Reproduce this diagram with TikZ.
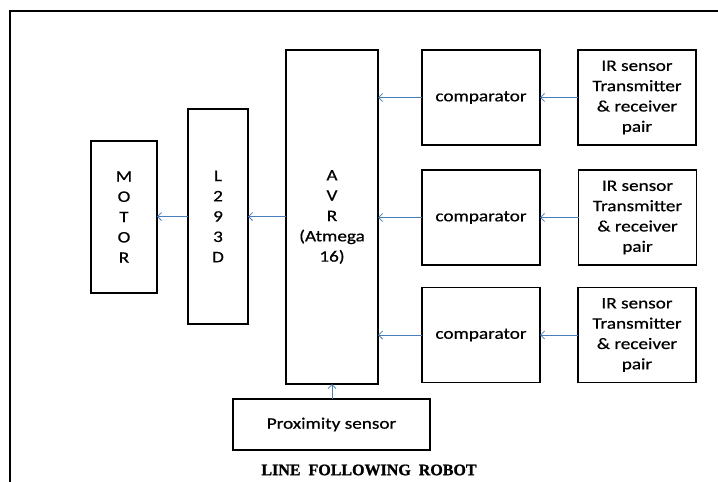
\documentclass[tikz,border=0pt]{standalone}
\usepackage{fontspec}
\setmainfont{Carlito}[FakeStretch=1.2,FakeBold=0.6]
\newfontfamily\titlefont{Liberation Serif}[FakeBold=1.2]
\usetikzlibrary{arrows.meta}
\definecolor{arrowblue}{RGB}{74,126,187}
\begin{document}
\begin{tikzpicture}[x=1pt,y=-1pt,
  box/.style={draw=black,line width=1.6pt,inner sep=0pt,outer sep=0pt,align=center,
    font=\fontsize{16}{20.3}\selectfont},
  conn/.style={draw=arrowblue,line width=0.8pt,-{Straight Barb[length=4pt,width=8pt]}},
  frameline/.style={draw=black,line width=1.8pt}]
\useasboundingbox (0,0) rectangle (718,482);
% frame
\coordinate (f1) at (10,482);
\coordinate (f2) at (10,11);
\coordinate (f3) at (718,11);
\draw[frameline] (f1) -- (f2) -- (f3);
% blocks
\node[box,minimum width=66pt,minimum height=152pt] (motor) at (124,217) {M\\O\\T\\O\\R};
\node[box,minimum width=60pt,minimum height=215pt] (l293) at (218,216.5) {L\\2\\9\\3\\D};
\node[box,minimum width=92pt,minimum height=334pt] (avr) at (332,217) {A\\V\\R\\(Atmega\\16)};
\node[box,minimum width=118pt,minimum height=95pt] (cmp1) at (481,97.5) {comparator};
\node[box,minimum width=118pt,minimum height=95pt] (cmp2) at (481,217.5) {comparator};
\node[box,minimum width=118pt,minimum height=95pt] (cmp3) at (481,335) {comparator};
\node[box,minimum width=118pt,minimum height=95pt] (ir1) at (637,97.5) {IR sensor\\Transmitter\\\& receiver\\pair};
\node[box,minimum width=118pt,minimum height=95pt] (ir2) at (637.5,217.5) {IR sensor\\Transmitter\\\& receiver\\pair};
\node[box,minimum width=118pt,minimum height=95pt] (ir3) at (637,335) {IR sensor\\Transmitter\\\& receiver\\pair};
\node[box,minimum width=197pt,minimum height=51pt] (prox) at (331.5,424.5) {Proximity sensor};
\node[font=\titlefont\bfseries\fontsize{16}{18}\selectfont] (title) at (369,470) {LINE\ \ FOLLOWING\ \ ROBOT};
% connectors
\draw[conn] (ir1.west) -- (cmp1.east);
\draw[conn] (ir2.west) -- (cmp2.east);
\draw[conn] (ir3.west) -- (cmp3.east);
\draw[conn] (cmp1.west) -- (cmp1.west -| avr.east);
\draw[conn] (cmp2.west) -- (cmp2.west -| avr.east);
\draw[conn] (cmp3.west) -- (cmp3.west -| avr.east);
\draw[conn] (l293.east -| avr.west) -- (l293.east);
\draw[conn] (l293.west) -- (l293.west -| motor.east);
\draw[conn] (prox.north -| avr.south) -- (avr.south);
\end{tikzpicture}
\end{document}
